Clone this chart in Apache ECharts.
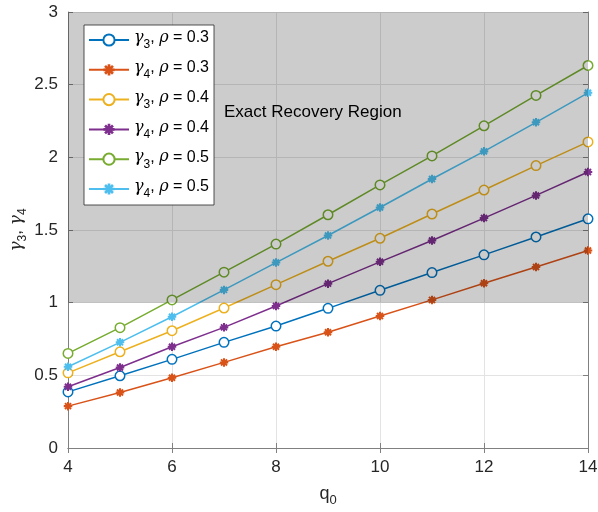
<!DOCTYPE html>
<html><head><meta charset="utf-8">
<script src="https://cdn.jsdelivr.net/npm/echarts@6/dist/echarts.min.js"></script>
<style>html,body{margin:0;padding:0;background:#fff}#c{width:598px;height:512px}</style>
</head><body><div id="c"></div>
<script>
var q0 = [4,5,6,7,8,9,10,11,12,13,14];
var g3_r03 = [0.386,0.497,0.610,0.727,0.839,0.961,1.085,1.207,1.329,1.452,1.577];
var g4_r03 = [0.288,0.382,0.483,0.589,0.697,0.796,0.908,1.019,1.134,1.246,1.359];
var g3_r04 = [0.517,0.662,0.807,0.963,1.124,1.285,1.443,1.610,1.775,1.943,2.106];
var g4_r04 = [0.421,0.554,0.697,0.830,0.977,1.131,1.281,1.428,1.582,1.738,1.899];
var g3_r05 = [0.651,0.828,1.019,1.210,1.403,1.605,1.810,2.010,2.217,2.426,2.632];
var g4_r05 = [0.559,0.727,0.903,1.088,1.276,1.462,1.655,1.851,2.041,2.241,2.444];
var gammaIdx = ['3','4','3','4','3','4'];
var rhoVals = ['0.3','0.3','0.4','0.4','0.5','0.5'];
var seriesNames = gammaIdx.map(function(g,i){return 'γ'+g+', ρ = '+rhoVals[i];});
var seriesData = [g3_r03,g4_r03,g3_r04,g4_r04,g3_r05,g4_r05];
var colors = ['#0072BD','#D95319','#EDB120','#7E2F8E','#77AC30','#4DBEEE'];
var regionRange = [1, 3];
var regionLabel = 'Exact Recovery Region';

function asteriskPath(){
  var s = '';
  var L = 5, W = 1.2;
  [0,45,90,135].forEach(function(a){
    var r = a*Math.PI/180, ux=Math.cos(r), uy=Math.sin(r), vx=-uy, vy=ux;
    var p = [[-L*ux-W*vx,-L*uy-W*vy],[L*ux-W*vx,L*uy-W*vy],[L*ux+W*vx,L*uy+W*vy],[-L*ux+W*vx,-L*uy+W*vy]];
    s += 'M'+p.map(function(q){return q[0].toFixed(3)+','+q[1].toFixed(3);}).join('L')+'Z';
  });
  return 'path://'+s;
}
var star = asteriskPath();
var FONT = 'Liberation Sans';
var GFONT = 'DejaVu Serif';

function richStyles(fs, col){
  return {
    t:{fontFamily:FONT,fontSize:fs,color:col,lineHeight:20,verticalAlign:'top'},
    g:{fontFamily:GFONT,fontStyle:'italic',fontSize:fs,color:col,lineHeight:20,verticalAlign:'top'},
    s:{fontFamily:FONT,fontSize:Math.round(fs*0.72),color:col,lineHeight:11,verticalAlign:'top',padding:[9,0,0,0]}
  };
}
function legendFmt(name){
  var m = name.match(/^γ(\d), ρ = (.*)$/);
  return '{g|γ}{s|'+m[1]+'}{t|, }{g|ρ}{t| = '+m[2]+'}';
}

var chart = echarts.init(document.getElementById('c'));
var series = seriesData.map(function(d,i){
  var circ = (i%2===0);
  return {
    name: seriesNames[i], type:'line', z:2,
    data: q0.map(function(x,k){return [x,d[k]];}),
    lineStyle:{color:colors[i],width:1.5},
    itemStyle: circ ? {color:'#fff',borderColor:colors[i],borderWidth:1.5} : {color:colors[i],borderColor:colors[i],borderWidth:0},
    color: colors[i],
    symbol: circ ? 'circle' : star,
    symbolSize: circ ? 9.5 : 8.5,
    showSymbol:true, animation:false
  };
});
series.push({
  type:'line', data:[], silent:true,
  markArea:{ silent:true, z:3,
    itemStyle:{color:'rgba(0,0,0,0.2)'},
    data:[[{yAxis:regionRange[0]},{yAxis:regionRange[1]}]]
  }
});
chart.setOption({
  animation:false,
  grid:{left:68,right:10,top:12,bottom:64,containLabel:false,outerBoundsMode:'none'},
  legend:{
    data:seriesNames, orient:'vertical', left:84, top:25, z:10,
    backgroundColor:'#fff', borderColor:'#262626', borderWidth:0.8,
    padding:[5,5,5,4], itemWidth:40, itemHeight:14, itemGap:8.8,
    formatter: legendFmt,
    textStyle:{fontFamily:FONT,fontSize:16,color:'#000',rich:richStyles(16,'#000')}
  },
  xAxis:[{
    type:'value', min:4, max:14, interval:2,
    name:'{t|q}{s|0}', nameLocation:'middle', nameGap:37,
    nameTextStyle:{fontFamily:FONT,fontSize:18,color:'#262626',rich:richStyles(18,'#262626')},
    axisLine:{lineStyle:{color:'#808080',width:1}},
    axisTick:{inside:true,length:5,lineStyle:{color:'#808080'}},
    axisLabel:{fontFamily:FONT,fontSize:17,color:'#262626',margin:11},
    splitLine:{show:true,lineStyle:{color:'#e3e3e3',width:1}}
  },{
    type:'value', min:4, max:14, interval:2, position:'top',
    axisLine:{show:true,lineStyle:{color:'#808080'}},
    axisTick:{inside:true,length:5,lineStyle:{color:'#808080'}},
    axisLabel:{show:false}, splitLine:{show:false}
  }],
  yAxis:[{
    type:'value', min:0, max:3, interval:0.5,
    name:'{g|γ}{s|3}{t|, }{g|γ}{s|4}', nameLocation:'middle', nameGap:40, nameRotate:90,
    nameMoveOverlap:false,
    nameTextStyle:{fontFamily:FONT,fontSize:17,color:'#262626',rich:richStyles(17,'#262626')},
    axisLine:{show:true,lineStyle:{color:'#808080',width:1}},
    axisTick:{show:true,inside:true,length:5,lineStyle:{color:'#808080'}},
    axisLabel:{fontFamily:FONT,fontSize:17,color:'#262626',margin:10},
    splitLine:{show:true,lineStyle:{color:'#e3e3e3',width:1}}
  },{
    type:'value', min:0, max:3, interval:0.5, position:'right',
    axisLine:{show:true,lineStyle:{color:'#808080'}},
    axisTick:{show:true,inside:true,length:5,lineStyle:{color:'#808080'}},
    axisLabel:{show:false}, splitLine:{show:false}
  }],
  graphic:[{
    type:'text', left:224, top:104, z:20,
    style:{text:regionLabel, fill:'#000', font:'17px "Liberation Sans"'}
  }],
  series: series
});
</script></body></html>
